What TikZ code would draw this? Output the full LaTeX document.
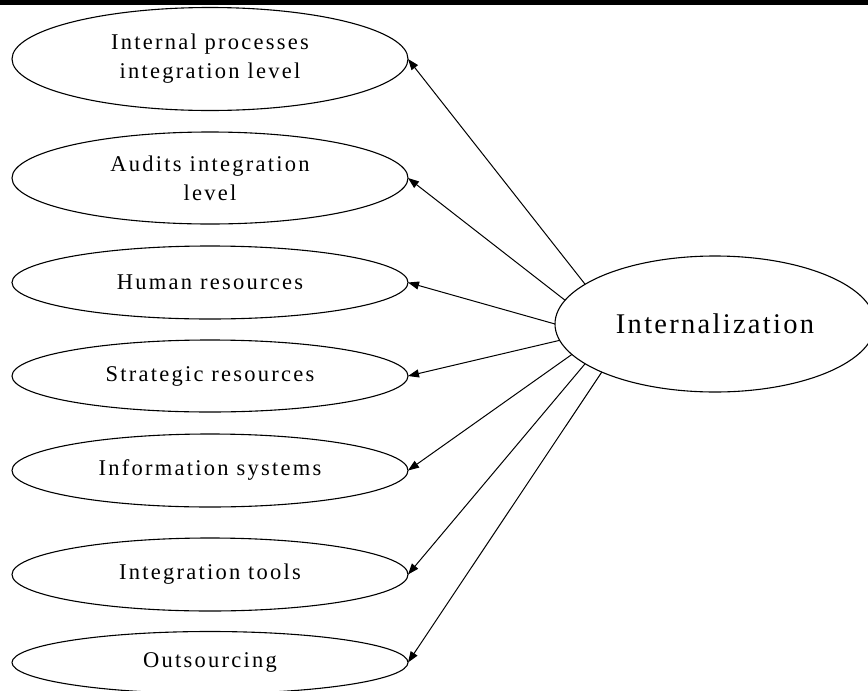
\documentclass[tikz,border=0pt]{standalone}
\usepackage{fontspec}
\usetikzlibrary{shapes.geometric,arrows.meta}
\newfontfamily\labfont[LetterSpace=10]{Liberation Serif}
\newfontfamily\hubfont[LetterSpace=8]{Liberation Serif}
\begin{document}
\begin{tikzpicture}[x=1pt,y=-1pt,
  factor/.style={ellipse,draw,line width=1.1pt,inner sep=0pt,outer sep=0pt,
    minimum width=396pt,align=center,
    font=\labfont\fontsize{22.5}{29}\selectfont},
  hub/.style={ellipse,draw,line width=1.1pt,inner sep=0pt,outer sep=0pt,
    minimum width=320pt,minimum height=136pt,
    font=\hubfont\fontsize{28.5}{32}\selectfont},
  link/.style={line width=1pt,-{Triangle[length=11pt,width=8pt]}}]
  \useasboundingbox (0,0) rectangle (868,691);
  \clip (0,0) rectangle (868,691);
  % heavy rule along the upper edge
  \fill[black] (0,0) rectangle (868,4.5);

  \node[factor,minimum height=103pt] (ip) at (210,59)
    {Internal processes\\integration level};
  \node[factor,minimum height=92pt] (au) at (210,178)
    {Audits integration\\level};
  \node[factor,minimum height=73pt] (hr) at (210,282.5) {Human resources};
  \node[factor,minimum height=72pt] (sr) at (210,376) {Strategic resources};
  \node[factor,minimum height=73pt] (is) at (210,470.5) {Information systems};
  \node[factor,minimum height=73pt] (it) at (210,574.5) {Integration tools};
  \node[factor,minimum height=62pt] (os) at (210,662.5) {Outsourcing};

  \node[hub] (in) at (715,324) {Internalization};

  \draw[link] (in.163) -- (ip.east);
  \draw[link] (in.171) -- (au.east);
  \draw[link] (in.180) -- (hr.east);
  \draw[link] (in.186) -- (sr.east);
  \draw[link] (in.192) -- (is.east);
  \draw[link] (in.197) -- (it.east);
  \draw[link] (in.203.5) -- (os.east);
\end{tikzpicture}
\end{document}
